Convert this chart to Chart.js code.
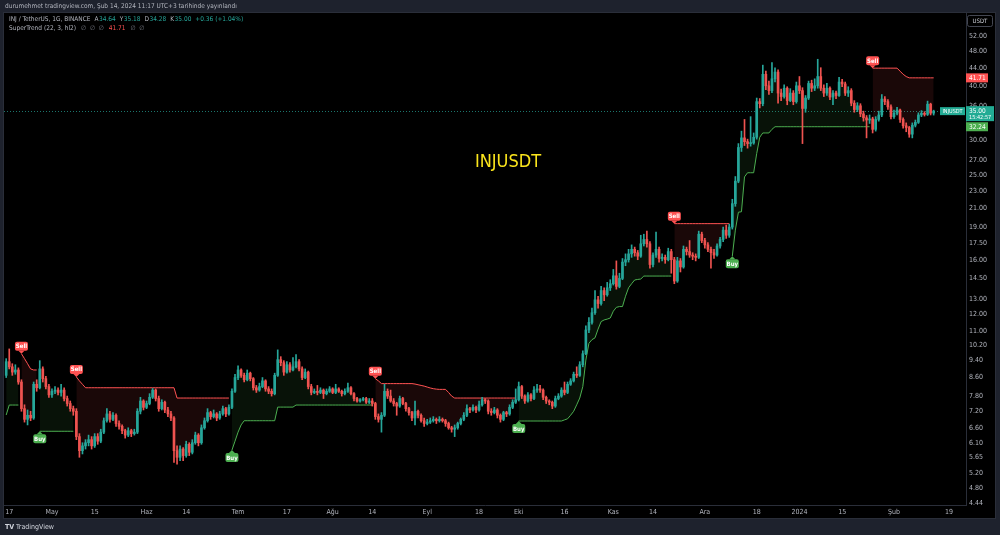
<!DOCTYPE html>
<html>
<head>
<meta charset="utf-8">
<script src="https://cdn.jsdelivr.net/npm/chart.js@4.4.1/dist/chart.umd.min.js"></script>
<style>
  html, body { margin: 0; padding: 0; background: #1e222d; overflow: hidden; }
  #wrap { position: relative; width: 1000px; height: 535px; }
</style>
</head>
<body>
<div id="wrap"><canvas id="chart"></canvas></div>
<script>
// INJ / TetherUS daily candles, 16 Apr 2023 .. 14 Feb 2024
const opens = [
  8.70, 9.35, 9.10, 8.85, 8.95, 8.40, 7.30, 6.90, 7.05, 6.95,
  8.30, 8.15, 9.00, 8.55, 8.20, 7.85, 8.00, 8.05, 7.95, 8.05,
  7.70, 7.50, 7.30, 7.20, 6.30, 5.85, 6.00, 6.10, 6.20, 6.00,
  6.30, 6.15, 6.45, 6.85, 7.10, 6.90, 7.05, 6.75, 6.65, 6.50,
  6.35, 6.50, 6.40, 6.45, 7.20, 7.60, 7.35, 7.50, 7.75, 8.05,
  7.70, 7.30, 7.55, 7.25, 7.10, 6.95, 5.85, 5.65, 5.90, 5.70,
  6.05, 5.80, 6.10, 6.35, 6.10, 6.60, 6.85, 7.15, 7.00, 7.10,
  6.95, 7.10, 7.30, 7.10, 7.35, 8.00, 8.60, 8.95, 8.70, 8.50,
  8.80, 8.55, 8.15, 8.05, 8.20, 8.45, 8.10, 8.00, 7.90, 8.70,
  9.45, 9.30, 8.85, 9.20, 8.95, 9.10, 9.35, 9.00, 8.60, 8.85,
  8.20, 7.95, 8.00, 7.95, 8.05, 7.90, 8.00, 8.10, 7.95, 8.10,
  8.00, 7.90, 8.00, 8.15, 7.90, 7.70, 7.60, 7.65, 7.70, 7.55,
  7.60, 7.50, 7.00, 6.90, 7.05, 8.00, 7.80, 7.60, 7.50, 7.40,
  7.70, 7.50, 7.30, 7.15, 6.95, 7.20, 7.05, 6.85, 6.75, 6.80,
  6.85, 6.90, 6.85, 6.90, 6.85, 6.75, 6.60, 6.55, 6.60, 6.75,
  6.90, 7.05, 7.30, 7.25, 7.35, 7.25, 7.45, 7.65, 7.60, 7.20,
  7.15, 7.25, 7.05, 6.90, 7.15, 7.10, 7.35, 7.55, 7.65, 8.20,
  7.80, 7.60, 7.85, 7.70, 8.05, 8.10, 8.05, 7.75, 7.60, 7.55,
  7.40, 7.70, 7.80, 8.05, 7.95, 8.30, 8.45, 8.75, 8.70, 9.20,
  9.75, 11.05, 11.50, 12.10, 12.95, 12.70, 13.60, 13.30, 13.80, 14.10,
  14.70, 13.90, 14.50, 15.80, 16.00, 16.50, 16.90, 16.60, 16.30, 17.40,
  17.80, 17.40, 15.60, 16.40, 16.90, 16.10, 16.20, 16.00, 16.70, 16.00,
  14.30, 15.90, 15.40, 16.90, 16.70, 16.40, 16.30, 16.20, 18.30, 17.70,
  17.30, 16.90, 16.60, 16.40, 17.20, 17.80, 18.70, 18.20, 19.00, 21.50,
  24.20, 28.90, 30.40, 29.80, 29.50, 29.60, 30.50, 36.80, 36.40, 42.50,
  40.00, 39.00, 41.50, 43.00, 38.50, 37.80, 39.50, 37.00, 38.50, 36.80,
  40.00, 39.00, 35.50, 37.50, 40.50, 39.50, 40.00, 42.00, 39.50, 38.50,
  39.50, 37.70, 38.50, 38.00, 40.80, 40.40, 38.50, 39.00, 36.50, 35.30,
  36.00, 34.50, 33.80, 33.40, 33.60, 31.80, 33.50, 34.30, 37.30, 36.80,
  35.80, 34.00, 34.60, 35.20, 33.50, 32.40, 32.10, 31.00, 32.50, 33.00,
  34.30, 34.60, 34.40, 36.30, 34.64
];
const highs = [
  9.50, 10.00, 9.25, 9.20, 9.05, 8.50, 7.45, 7.25, 7.20, 8.40,
  8.50, 9.40, 9.10, 8.65, 8.30, 8.10, 8.20, 8.15, 8.30, 8.15,
  7.80, 7.60, 7.40, 7.30, 6.40, 6.10, 6.20, 6.35, 6.30, 6.40,
  6.40, 6.55, 6.95, 7.30, 7.20, 7.15, 7.10, 6.85, 6.70, 6.55,
  6.60, 6.55, 6.55, 7.30, 7.75, 7.65, 7.60, 7.90, 8.12, 8.10,
  7.80, 7.65, 7.60, 7.35, 7.20, 7.00, 6.00, 6.00, 5.95, 6.15,
  6.10, 6.20, 6.45, 6.40, 6.70, 6.95, 7.30, 7.20, 7.25, 7.15,
  7.20, 7.40, 7.35, 7.45, 8.10, 8.75, 9.15, 9.00, 8.80, 8.95,
  8.85, 8.60, 8.25, 8.35, 8.60, 8.50, 8.20, 8.10, 8.80, 9.95,
  9.60, 9.40, 9.35, 9.30, 9.55, 9.70, 9.45, 9.10, 9.00, 8.90,
  8.30, 8.10, 8.25, 8.15, 8.10, 8.10, 8.20, 8.15, 8.30, 8.15,
  8.05, 8.10, 8.35, 8.20, 7.95, 7.75, 7.70, 7.75, 7.75, 7.70,
  7.70, 7.55, 7.10, 7.15, 8.30, 8.10, 8.05, 7.70, 7.55, 7.80,
  7.75, 7.55, 7.35, 7.20, 7.60, 7.25, 7.10, 6.95, 6.90, 6.95,
  7.00, 6.95, 7.00, 6.95, 6.90, 6.80, 6.65, 6.70, 6.80, 6.95,
  7.15, 7.45, 7.35, 7.45, 7.40, 7.60, 7.75, 7.70, 7.65, 7.30,
  7.35, 7.30, 7.10, 7.20, 7.20, 7.45, 7.65, 8.10, 8.40, 8.25,
  7.85, 7.95, 7.90, 8.20, 8.30, 8.25, 8.10, 7.80, 7.65, 7.60,
  7.80, 7.90, 8.15, 8.40, 8.40, 8.55, 8.85, 9.10, 9.35, 9.90,
  11.30, 11.80, 12.40, 13.60, 13.20, 13.90, 13.80, 14.20, 14.40, 15.20,
  15.90, 14.90, 16.10, 16.50, 16.90, 17.30, 17.10, 16.80, 18.20, 18.30,
  18.60, 17.60, 16.60, 18.50, 17.10, 16.50, 16.40, 17.00, 16.90, 16.20,
  16.20, 16.10, 17.20, 17.10, 17.70, 16.60, 16.50, 18.60, 18.50, 17.90,
  17.50, 17.10, 16.90, 17.40, 18.00, 19.00, 19.20, 19.30, 22.00, 24.80,
  29.50, 31.50, 33.50, 30.20, 34.00, 31.20, 37.50, 37.40, 44.60, 43.20,
  41.00, 45.20, 44.00, 43.50, 39.30, 40.20, 39.80, 39.40, 39.00, 40.80,
  42.00, 39.60, 38.00, 41.00, 41.20, 41.50, 46.00, 44.00, 40.20, 40.50,
  39.80, 39.00, 38.90, 41.80, 41.40, 40.80, 39.80, 39.40, 37.00, 36.60,
  36.40, 35.00, 34.20, 34.30, 33.90, 34.00, 35.00, 38.20, 37.80, 37.20,
  36.20, 35.20, 35.70, 35.40, 33.80, 32.90, 32.30, 32.90, 33.40, 34.70,
  35.10, 34.90, 36.90, 36.50, 35.18
];
const lows = [
  8.60, 9.00, 8.70, 8.75, 8.30, 7.20, 6.80, 6.70, 6.85, 6.90,
  8.00, 8.10, 8.40, 8.10, 7.75, 7.75, 7.90, 7.85, 7.80, 7.60,
  7.40, 7.20, 7.05, 6.20, 5.65, 5.75, 5.90, 6.00, 5.90, 5.95,
  6.05, 6.10, 6.40, 6.80, 6.80, 6.85, 6.65, 6.55, 6.40, 6.25,
  6.30, 6.30, 6.35, 6.40, 7.10, 7.25, 7.30, 7.45, 7.70, 7.60,
  7.20, 7.25, 7.15, 7.00, 6.85, 5.50, 5.45, 5.55, 5.55, 5.65,
  5.70, 5.75, 6.05, 6.00, 6.05, 6.55, 6.80, 6.90, 6.95, 6.85,
  6.90, 7.05, 7.00, 7.05, 7.30, 7.95, 8.50, 8.60, 8.40, 8.45,
  8.45, 8.05, 7.95, 8.00, 8.15, 8.00, 7.90, 7.80, 7.85, 8.65,
  9.15, 8.70, 8.80, 8.85, 8.90, 9.05, 8.90, 8.50, 8.55, 8.10,
  7.85, 7.90, 7.85, 7.90, 7.70, 7.85, 7.95, 7.90, 7.90, 7.95,
  7.80, 7.85, 7.95, 7.85, 7.60, 7.55, 7.55, 7.60, 7.50, 7.50,
  7.40, 6.90, 6.80, 6.45, 7.00, 7.70, 7.55, 7.40, 7.05, 7.35,
  7.45, 7.20, 7.05, 6.85, 6.70, 6.95, 6.80, 6.65, 6.70, 6.75,
  6.80, 6.75, 6.80, 6.80, 6.65, 6.55, 6.45, 6.30, 6.55, 6.70,
  6.85, 7.00, 7.15, 7.20, 7.15, 7.20, 7.40, 7.50, 7.10, 7.05,
  7.10, 6.95, 6.80, 6.85, 7.00, 7.05, 7.30, 7.50, 7.60, 7.70,
  7.50, 7.55, 7.60, 7.65, 7.95, 7.95, 7.65, 7.50, 7.45, 7.30,
  7.35, 7.65, 7.75, 7.85, 7.90, 8.25, 8.40, 8.60, 8.65, 9.10,
  9.70, 10.90, 11.40, 12.00, 12.40, 12.60, 12.90, 13.20, 13.60, 14.00,
  13.70, 13.80, 14.40, 15.50, 15.80, 16.20, 16.30, 16.00, 16.20, 17.20,
  17.10, 15.30, 15.40, 16.20, 15.80, 15.90, 15.70, 15.90, 14.90, 14.10,
  14.20, 15.00, 15.30, 16.40, 16.20, 16.00, 15.90, 16.10, 17.50, 17.00,
  16.70, 15.30, 16.10, 16.30, 17.00, 17.60, 17.90, 18.00, 18.80, 21.20,
  24.00, 28.30, 29.20, 28.80, 29.10, 29.40, 30.20, 35.60, 36.00, 39.20,
  38.20, 38.60, 40.80, 36.50, 37.00, 37.50, 36.20, 36.80, 36.20, 36.50,
  38.40, 29.50, 34.80, 37.20, 38.80, 39.00, 39.50, 39.00, 37.80, 38.00,
  37.20, 36.20, 37.40, 37.80, 39.80, 38.00, 37.80, 36.00, 34.80, 34.90,
  34.00, 33.20, 30.40, 32.80, 31.20, 31.50, 33.20, 34.00, 36.20, 35.30,
  33.60, 33.70, 34.30, 33.00, 32.00, 31.40, 30.50, 30.40, 32.20, 32.80,
  34.00, 34.10, 34.20, 34.30, 34.28
];
const closes = [
  9.35, 9.10, 8.85, 8.95, 8.40, 7.30, 6.90, 7.05, 6.95, 8.30,
  8.15, 9.00, 8.55, 8.20, 7.85, 8.00, 8.05, 7.95, 8.05, 7.70,
  7.50, 7.30, 7.20, 6.30, 5.85, 6.00, 6.10, 6.20, 6.00, 6.30,
  6.15, 6.45, 6.85, 7.10, 6.90, 7.05, 6.75, 6.65, 6.50, 6.35,
  6.50, 6.40, 6.45, 7.20, 7.60, 7.35, 7.50, 7.75, 8.05, 7.70,
  7.30, 7.55, 7.25, 7.10, 6.95, 5.85, 5.65, 5.90, 5.70, 6.05,
  5.80, 6.10, 6.35, 6.10, 6.60, 6.85, 7.15, 7.00, 7.10, 6.95,
  7.10, 7.30, 7.10, 7.35, 8.00, 8.60, 8.95, 8.70, 8.50, 8.80,
  8.55, 8.15, 8.05, 8.20, 8.45, 8.10, 8.00, 7.90, 8.70, 9.45,
  9.30, 8.85, 9.20, 8.95, 9.10, 9.35, 9.00, 8.60, 8.85, 8.20,
  7.95, 8.00, 7.95, 8.05, 7.90, 8.00, 8.10, 7.95, 8.10, 8.00,
  7.90, 8.00, 8.15, 7.90, 7.70, 7.60, 7.65, 7.70, 7.55, 7.60,
  7.50, 7.00, 6.90, 7.05, 8.00, 7.80, 7.60, 7.50, 7.40, 7.70,
  7.50, 7.30, 7.15, 6.95, 7.20, 7.05, 6.85, 6.75, 6.80, 6.85,
  6.90, 6.85, 6.90, 6.85, 6.75, 6.60, 6.55, 6.60, 6.75, 6.90,
  7.05, 7.30, 7.25, 7.35, 7.25, 7.45, 7.65, 7.60, 7.20, 7.15,
  7.25, 7.05, 6.90, 7.15, 7.10, 7.35, 7.55, 7.65, 8.20, 7.80,
  7.60, 7.85, 7.70, 8.05, 8.10, 8.05, 7.75, 7.60, 7.55, 7.40,
  7.70, 7.80, 8.05, 7.95, 8.30, 8.45, 8.75, 8.70, 9.20, 9.75,
  11.05, 11.50, 12.10, 12.95, 12.70, 13.60, 13.30, 13.80, 14.10, 14.70,
  13.90, 14.50, 15.80, 16.00, 16.50, 16.90, 16.60, 16.30, 17.40, 17.80,
  17.40, 15.60, 16.40, 16.90, 16.10, 16.20, 16.00, 16.70, 16.00, 14.30,
  15.90, 15.40, 16.90, 16.70, 16.40, 16.30, 16.20, 18.30, 17.70, 17.30,
  16.90, 16.60, 16.40, 17.20, 17.80, 18.70, 18.20, 19.00, 21.50, 24.20,
  28.90, 30.40, 29.80, 29.50, 29.60, 30.50, 36.80, 36.40, 42.50, 40.00,
  39.00, 41.50, 43.00, 38.50, 37.80, 39.50, 37.00, 38.50, 36.80, 40.00,
  39.00, 35.50, 37.50, 40.50, 39.50, 40.00, 42.00, 39.50, 38.50, 39.50,
  37.70, 38.50, 38.00, 40.80, 40.40, 38.50, 39.00, 36.50, 35.30, 36.00,
  34.50, 33.80, 33.40, 33.60, 31.80, 33.50, 34.30, 37.30, 36.80, 35.80,
  34.00, 34.60, 35.20, 33.50, 32.40, 32.10, 31.00, 32.50, 33.00, 34.30,
  34.60, 34.40, 36.30, 34.64, 35.00
];

// Super Trend (22, 3, hl2) line, one value per candle
const stLine = [
  7.06, 7.44, 7.44, 7.44, 7.44, 9.75, 9.50, 9.25, 9.00, 8.95,
  8.95, 6.48, 6.48, 6.48, 6.48, 6.48, 6.48, 6.48, 6.48, 6.48,
  6.48, 6.48, 6.48, 8.63, 8.45, 8.30, 8.15, 8.15, 8.15, 8.15,
  8.15, 8.15, 8.15, 8.15, 8.15, 8.15, 8.15, 8.15, 8.15, 8.15,
  8.15, 8.15, 8.15, 8.15, 8.15, 8.15, 8.15, 8.15, 8.15, 8.15,
  8.15, 8.15, 8.15, 8.15, 8.15, 8.15, 7.72, 7.72, 7.72, 7.72,
  7.72, 7.72, 7.72, 7.72, 7.72, 7.72, 7.72, 7.72, 7.72, 7.72,
  7.72, 7.72, 7.72, 7.72, 5.87, 6.15, 6.45, 6.70, 6.85, 6.85,
  6.85, 6.85, 6.85, 6.85, 6.85, 6.85, 6.85, 6.85, 6.85, 7.36,
  7.36, 7.36, 7.36, 7.36, 7.36, 7.44, 7.44, 7.44, 7.44, 7.44,
  7.44, 7.44, 7.44, 7.44, 7.44, 7.44, 7.44, 7.44, 7.44, 7.44,
  7.44, 7.44, 7.44, 7.44, 7.44, 7.44, 7.44, 7.44, 7.44, 7.44,
  7.44, 8.55, 8.45, 8.33, 8.33, 8.33, 8.33, 8.33, 8.33, 8.33,
  8.33, 8.33, 8.33, 8.33, 8.31, 8.28, 8.25, 8.22, 8.18, 8.14,
  8.11, 8.09, 8.08, 8.08, 8.08, 7.95, 7.80, 7.72, 7.72, 7.72,
  7.72, 7.72, 7.72, 7.72, 7.72, 7.72, 7.72, 7.72, 7.72, 7.72,
  7.72, 7.72, 7.72, 7.72, 7.72, 7.72, 7.72, 7.72, 6.84, 6.84,
  6.84, 6.84, 6.84, 6.84, 6.84, 6.84, 6.84, 6.84, 6.84, 6.84,
  6.84, 6.84, 6.84, 6.88, 6.92, 7.05, 7.20, 7.45, 7.72, 8.20,
  9.43, 10.30, 10.50, 10.60, 11.10, 11.55, 11.65, 11.70, 11.77, 12.20,
  12.45, 12.50, 12.50, 13.20, 13.80, 14.10, 14.38, 14.42, 14.45, 14.68,
  14.68, 14.68, 14.68, 14.68, 14.68, 14.68, 14.68, 14.68, 14.68, 19.35,
  19.35, 19.35, 19.35, 19.35, 19.35, 19.35, 19.35, 19.35, 19.35, 19.35,
  19.35, 19.35, 19.35, 19.35, 19.35, 19.35, 19.35, 19.35, 16.30, 18.70,
  20.55, 20.60, 24.75, 25.30, 25.30, 25.30, 28.00, 30.50, 31.20, 31.20,
  31.20, 31.80, 32.24, 32.24, 32.24, 32.24, 32.24, 32.24, 32.24, 32.24,
  32.24, 32.24, 32.24, 32.24, 32.24, 32.24, 32.24, 32.24, 32.24, 32.24,
  32.24, 32.24, 32.24, 32.24, 32.24, 32.24, 32.24, 32.24, 32.24, 32.24,
  32.24, 32.24, 32.24, 32.24, 43.90, 43.90, 43.90, 43.90, 43.90, 43.90,
  43.90, 43.90, 43.90, 43.20, 42.50, 42.00, 41.71, 41.71, 41.71, 41.71,
  41.71, 41.71, 41.71, 41.71, 41.71
];
const buyBars = [11, 74, 168, 238];
const sellBars = [5, 23, 121, 219, 284];

// time axis: candle index of each date label
const dateTickIdx = [1, 15, 29, 46, 59, 76, 92, 107, 120, 138, 155, 168, 183, 199, 212, 229, 246, 260, 274, 291, 309];
const dateTickText = ['17', 'May', '15', 'Haz', '14', 'Tem', '17', 'Ağu', '14', 'Eyl', '18', 'Eki', '16', 'Kas', '14', 'Ara', '18', '2024', '15', 'Şub', '19'];
const priceTicks = [52, 48, 44, 40, 36, 30, 27, 25, 23, 21, 19, 17.5, 16, 14.5, 13, 12, 11, 10.2, 9.4, 8.6, 7.8, 7.2, 6.6, 6.1, 5.65, 5.2, 4.8, 4.44];

const lastClose = 35.00;
const lastSuperTrend = 41.71;
const lastUpLevel = 32.24;

const UP = '#26a69a';
const DOWN = '#ef5350';
const ST_UP = '#4caf50';
const ST_DOWN = '#ff5252';
const FONT = '"Liberation Sans Narrow", "DejaVu Sans Condensed", "Liberation Sans", sans-serif';

// direction of the trend, switched at every signal bar
const idx = closes.map((_, i) => i);
const dir = [];
let d = 1;
idx.forEach(i => {
  if (buyBars.includes(i)) d = 1;
  if (sellBars.includes(i)) d = -1;
  dir.push(d);
});
const tickLabel = {};
dateTickIdx.forEach((v, k) => { tickLabel[v] = dateTickText[k]; });

const candleColor = idx.map(i => closes[i] >= opens[i] ? UP : DOWN);

const frame = {
  id: 'frame',
  beforeDraw(chart) {
    const c = chart.ctx;
    c.save();
    c.fillStyle = '#1e222d';
    c.fillRect(0, 0, 1000, 535);
    c.fillStyle = '#000000';
    c.fillRect(4, 13, 991, 505);
    c.strokeStyle = '#2a2e39';
    c.lineWidth = 1;
    c.strokeRect(3.5, 12.5, 992, 506);
    c.restore();
  },
  beforeDatasetsDraw(chart) {
    // dotted last price line
    const c = chart.ctx, a = chart.chartArea;
    const y = Math.round(chart.scales.y.getPixelForValue(lastClose)) + 0.5;
    c.save();
    c.strokeStyle = 'rgba(38,166,154,0.7)';
    c.setLineDash([1, 2]);
    c.beginPath();
    c.moveTo(a.left, y);
    c.lineTo(a.right, y);
    c.stroke();
    c.restore();
  },
  afterDatasetsDraw(chart) {
    const c = chart.ctx;
    const xs = chart.scales.x, ys = chart.scales.y;
    const tag = (i, up) => {
      const x = xs.getPixelForValue(i);
      const y = ys.getPixelForValue(stLine[i]);
      const w = 13, h = 9, p = 3;
      c.fillStyle = up ? ST_UP : ST_DOWN;
      c.beginPath();
      if (up) {
        c.moveTo(x, y); c.lineTo(x - 3, y + p); c.lineTo(x + 3, y + p);
      } else {
        c.moveTo(x, y); c.lineTo(x - 3, y - p); c.lineTo(x + 3, y - p);
      }
      c.fill();
      const top = up ? y + p : y - p - h;
      c.beginPath();
      c.roundRect(x - w / 2, top, w, h, 2);
      c.fill();
      c.fillStyle = '#ffffff';
      c.font = 'bold 6px ' + FONT;
      c.textAlign = 'center';
      c.textBaseline = 'middle';
      c.fillText(up ? 'Buy' : 'Sell', x, top + h / 2 + 0.5);
    };
    c.save();
    buyBars.forEach(i => tag(i, true));
    sellBars.forEach(i => tag(i, false));
    c.restore();
  },
  afterDraw(chart) {
    const c = chart.ctx;
    const ys = chart.scales.y;
    c.save();
    c.textBaseline = 'middle';
    c.textAlign = 'left';

    // header
    c.fillStyle = '#b2b5be';
    c.font = '6.5px ' + FONT;
    c.fillText('durumehmet tradingview.com, Şub 14, 2024 11:17 UTC+3 tarihinde yayınlandı', 5, 6);

    // legend line 1
    let x = 9;
    const put = (t, col, gap) => {
      c.fillStyle = col;
      c.fillText(t, x, y0);
      x += c.measureText(t).width + gap;
    };
    let y0 = 19.5;
    c.font = '6.5px ' + FONT;
    put('INJ / TetherUS, 1G, BINANCE', '#b2b5be', 4);
    [['A', '34.64'], ['Y', '35.18'], ['D', '34.28'], ['K', '35.00']].forEach(p => {
      put(p[0], '#b2b5be', 0.5);
      put(p[1], UP, 4);
    });
    put('+0.36 (+1.04%)', UP, 0);
    // legend line 2
    x = 9; y0 = 28.5;
    put('SuperTrend (22, 3, hl2)', '#b2b5be', 5);
    put('∅  ∅  ∅', '#787b86', 5);
    put('41.71', ST_DOWN, 5);
    put('∅  ∅', '#787b86', 0);

    // symbol watermark
    c.fillStyle = '#fbe51c';
    c.font = '18px ' + FONT;
    c.textAlign = 'center';
    c.fillText('INJUSDT', 508, 162);

    // price tags on the right scale
    c.textAlign = 'left';
    c.font = '6.5px ' + FONT;
    const box = (v, col, text) => {
      const y = ys.getPixelForValue(v);
      c.fillStyle = col;
      c.fillRect(966, y - 4.5, 22, 9);
      c.fillStyle = '#ffffff';
      c.fillText(text, 969, y + 0.5);
    };
    box(lastSuperTrend, ST_DOWN, lastSuperTrend.toFixed(2));
    box(lastUpLevel, ST_UP, lastUpLevel.toFixed(2));
    const yp = ys.getPixelForValue(lastClose);
    c.fillStyle = '#22ab94';
    c.fillRect(966, yp - 5, 28, 15);
    c.fillRect(940, yp - 4, 25, 8);
    c.fillStyle = '#ffffff';
    c.fillText(lastClose.toFixed(2), 969, yp);
    c.font = '5.5px ' + FONT;
    c.fillText('15:42:57', 969, yp + 6.5);
    c.font = '5.5px ' + FONT;
    c.textAlign = 'center';
    c.fillText('INJUSDT', 952.5, yp + 0.5);

    // currency box
    c.strokeStyle = '#434651';
    c.beginPath();
    c.roundRect(967.5, 15.5, 25, 11, 2);
    c.stroke();
    c.fillStyle = '#d1d4dc';
    c.font = '6px ' + FONT;
    c.fillText('USDT', 980, 21.5);

    // footer logo
    c.textAlign = 'left';
    c.fillStyle = '#d1d4dc';
    c.font = 'bold 7px ' + FONT;
    c.fillText('TV', 5, 527);
    c.font = '7px ' + FONT;
    c.fillText('TradingView', 16, 527);
    c.restore();
  }
};

Chart.defaults.font.family = FONT;

new Chart(document.getElementById('chart'), {
  type: 'bar',
  data: {
    datasets: [
      {
        label: 'wicks',
        data: idx.map(i => ({ x: i, y: [lows[i], highs[i]] })),
        backgroundColor: candleColor,
        barThickness: 1,
        grouped: false,
        order: 1
      },
      {
        label: 'bodies',
        data: idx.map(i => ({ x: i, y: [opens[i], closes[i]] })),
        backgroundColor: candleColor,
        barThickness: 2,
        minBarLength: 1,
        grouped: false,
        order: 0
      },
      {
        type: 'line',
        label: 'up',
        data: idx.map(i => ({ x: i, y: dir[i] === 1 ? stLine[i] : null })),
        borderColor: ST_UP,
        borderWidth: 1,
        pointRadius: 0,
        spanGaps: false,
        fill: { target: 4, above: 'rgba(76,175,80,0.1)', below: 'rgba(76,175,80,0.1)' },
        order: 2
      },
      {
        type: 'line',
        label: 'down',
        data: idx.map(i => ({ x: i, y: dir[i] === -1 ? stLine[i] : null })),
        borderColor: ST_DOWN,
        borderWidth: 1,
        pointRadius: 0,
        spanGaps: false,
        fill: { target: 4, above: 'rgba(255,82,82,0.1)', below: 'rgba(255,82,82,0.1)' },
        order: 2
      },
      {
        type: 'line',
        label: 'body middle',
        data: idx.map(i => ({ x: i, y: (opens[i] + closes[i]) / 2 })),
        borderColor: 'rgba(0,0,0,0)',
        borderWidth: 0,
        pointRadius: 0,
        fill: false,
        order: 3
      }
    ]
  },
  options: {
    responsive: true,
    maintainAspectRatio: false,
    animation: false,
    events: [],
    layout: { padding: { left: 4, top: 13, right: 5, bottom: 17 }, autoPadding: false },
    plugins: { legend: { display: false }, tooltip: { enabled: false } },
    scales: {
      x: {
        type: 'linear',
        min: -0.72,
        max: 314.6,
        offset: false,
        bounds: 'data',
        grid: { display: false, drawTicks: false },
        border: { display: true, color: '#2a2e39' },
        ticks: {
          color: '#b2b5be',
          font: { size: 7 },
          padding: 3,
          maxRotation: 0,
          autoSkip: false,
          callback: v => tickLabel[v] ?? ''
        },
        afterBuildTicks: s => { s.ticks = dateTickIdx.map(v => ({ value: v })); },
        afterFit: s => { s.height = 13; }
      },
      y: {
        type: 'logarithmic',
        position: 'right',
        min: 4.394,
        max: 58.7,
        bounds: 'data',
        grid: { display: false, drawTicks: false },
        border: { display: true, color: '#2a2e39' },
        ticks: {
          color: '#b2b5be',
          font: { size: 7 },
          padding: 3,
          autoSkip: false,
          callback: v => Number(v).toFixed(2)
        },
        afterBuildTicks: s => { s.ticks = priceTicks.map(v => ({ value: v })); },
        afterFit: s => { s.width = 29; }
      }
    }
  },
  plugins: [frame]
});
</script>
</body>
</html>
